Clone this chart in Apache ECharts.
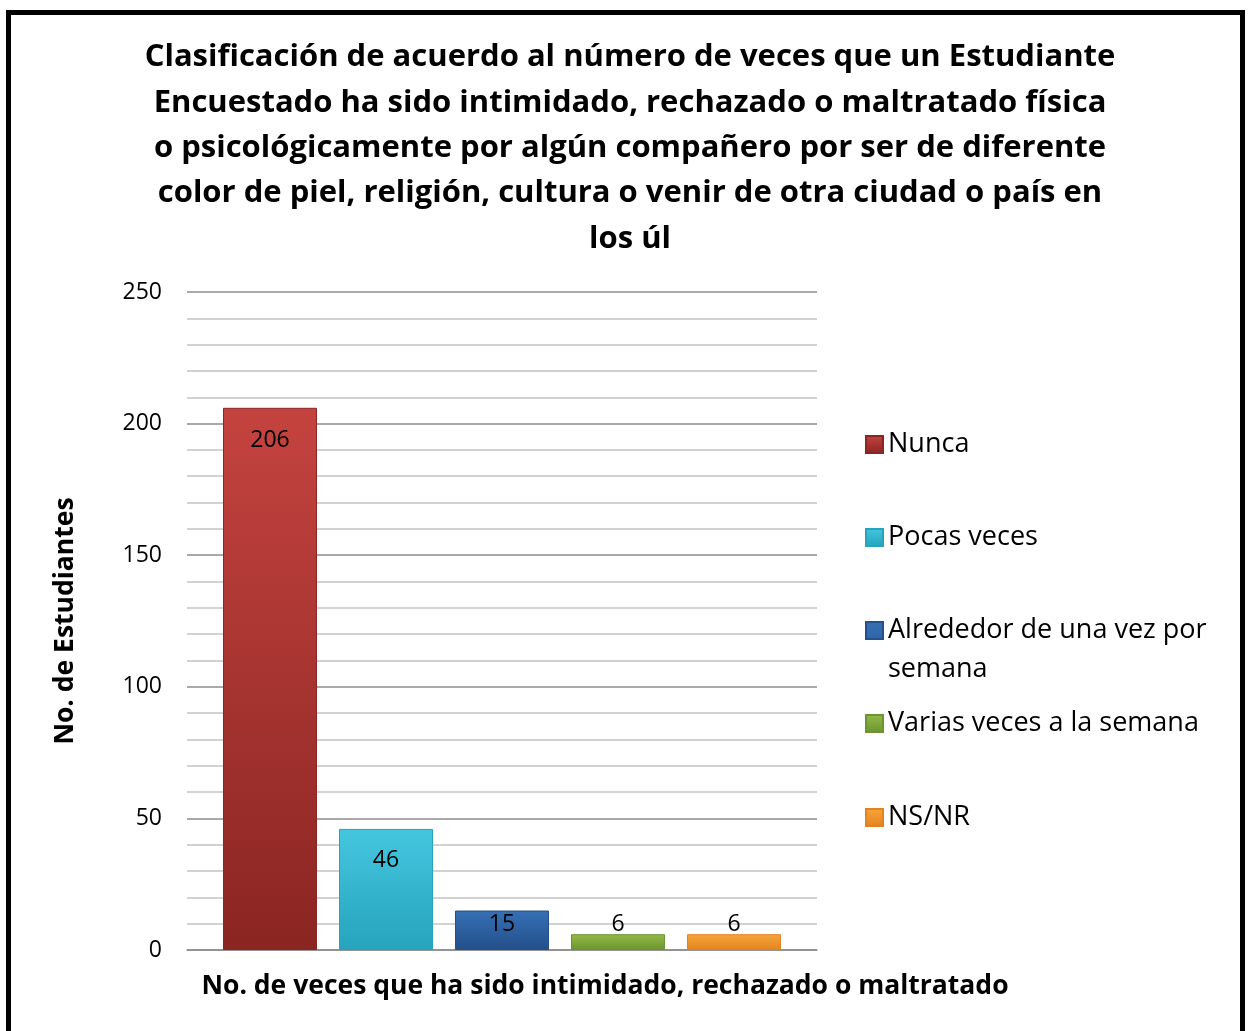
<!DOCTYPE html>
<html>
<head>
<meta charset="utf-8">
<script src="https://cdn.jsdelivr.net/npm/echarts@6/dist/echarts.min.js"></script>
<style>
html,body{margin:0;padding:0;background:#fff;overflow:hidden;}
#frame{position:absolute;left:6px;top:10px;width:1239px;height:1100px;border:5px solid #000;box-sizing:border-box;}
#chart{position:absolute;left:0;top:0;width:1251px;height:1031px;}
</style>
</head>
<body>
<div id="frame"></div>
<div id="chart"></div>
<script>
const titleText = 'Clasificación de acuerdo al número de veces que un Estudiante\nEncuestado ha sido intimidado, rechazado o maltratado física\no psicológicamente por algún compañero por ser de diferente\ncolor de piel, religión, cultura o venir de otra ciudad o país en\nlos úl';
const categories = [''];
const seriesNames = ['Nunca', 'Pocas veces', 'Alrededor de una vez por semana', 'Varias veces a la semana', 'NS/NR'];
const seriesValues = [206, 46, 15, 6, 6];
const yTicks = [0, 50, 100, 150, 200, 250];
const yAxisTitle = 'No. de Estudiantes';
const xAxisTitle = 'No. de veces que ha sido intimidado, rechazado o maltratado';

const colorsTop = ['#c4433f', '#45c6df', '#3670b5', '#93bb48', '#f7a63a'];
const colorsBot = ['#8a2522', '#26a3bd', '#234f8a', '#6c9430', '#e48220'];
const labelPos = ['insideTop', 'insideTop', 'insideTop', 'top', 'top'];
const labelDist = [21, 20, 2, -2, -2];

const FONT = '"Open Sans", sans-serif';
const chart = echarts.init(document.getElementById('chart'), null, {renderer: 'canvas'});

const series = seriesNames.map((n, i) => ({
  name: n,
  type: 'bar',
  data: [seriesValues[i]],
  barWidth: 94,
  barGap: '23.4%',
  itemStyle: {
    color: new echarts.graphic.LinearGradient(0, 0, 0, 1, [
      {offset: 0, color: colorsTop[i]},
      {offset: 1, color: colorsBot[i]}
    ]),
    borderColor: colorsBot[i],
    borderWidth: 1
  },
  label: {
    show: true,
    position: labelPos[i],
    distance: labelDist[i],
    color: '#000',
    fontSize: 23,
    fontFamily: FONT
  }
}));

const legendTops = [420, 513, 606, 699, 793];
const legends = seriesNames.map((n, i) => {
  const wrapped = n === 'Alrededor de una vez por semana';
  return {
    data: [n],
    left: 860,
    top: legendTops[i],
    orient: 'vertical',
    itemWidth: 17,
    itemHeight: wrapped ? 56 : 17,
    itemGap: 0,
    icon: wrapped ? 'path://M0,0L17,0L17,17L0,17Z M0,56L0,56' : 'rect',
    selectedMode: false,
    formatter: function (name) {
      return name === 'Alrededor de una vez por semana' ? 'Alrededor de una vez por\nsemana' : name;
    },
    textStyle: {
      fontSize: 27,
      fontFamily: FONT,
      color: '#000',
      lineHeight: 39
    }
  };
});

chart.setOption({
  animation: false,
  backgroundColor: 'transparent',
  title: [
    {
      text: titleText,
      left: 625,
      top: 30,
      textAlign: 'center',
      textStyle: {fontSize: 31, fontWeight: 'bold', fontFamily: FONT, color: '#000', lineHeight: 45.3}
    },
    {
      text: xAxisTitle,
      left: 600,
      top: 968,
      textAlign: 'center',
      textStyle: {fontSize: 26.5, fontWeight: 'bold', fontFamily: FONT, color: '#000'}
    }
  ],
  legend: legends,
  grid: {left: 187, right: 434, top: 292, bottom: 81, containLabel: false},
  xAxis: {
    type: 'category',
    data: categories,
    axisLine: {lineStyle: {color: '#8c8c8c', width: 1.5}},
    axisTick: {show: false},
    axisLabel: {show: false}
  },
  yAxis: {
    type: 'value',
    min: yTicks[0],
    max: yTicks[yTicks.length - 1],
    interval: 50,
    name: yAxisTitle,
    nameLocation: 'middle',
    nameGap: 108,
    nameRotate: 90,
    nameTextStyle: {fontSize: 26.5, fontWeight: 'bold', fontFamily: FONT, color: '#000'},
    axisLine: {show: false},
    axisTick: {show: false},
    axisLabel: {fontSize: 23, fontFamily: FONT, color: '#000', margin: 25},
    splitLine: {lineStyle: {color: '#8c8c8c', width: 1.5}},
    minorTick: {show: false, splitNumber: 5},
    minorSplitLine: {show: true, lineStyle: {color: '#c4c4c4', width: 1.5}}
  },
  series: series
});
</script>
</body>
</html>
